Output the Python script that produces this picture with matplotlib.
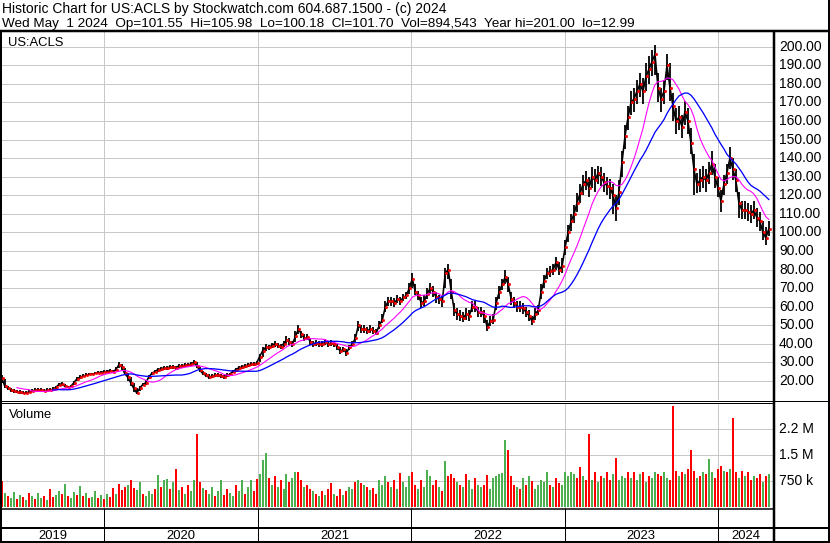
import matplotlib
matplotlib.use('Agg')
import matplotlib.pyplot as plt
import matplotlib.dates as mdates
import matplotlib.transforms as mtransforms
from matplotlib.lines import Line2D
import numpy as np
import pandas as pd

plt.rcParams['font.family'] = ['Liberation Sans', 'DejaVu Sans']

# ---------------- data ----------------
ticker = "US:ACLS"
header1 = "Historic Chart for US:ACLS by Stockwatch.com 604.687.1500 - (c) 2024"
header2 = "Wed May  1 2024  Op=101.55  Hi=105.98  Lo=100.18  Cl=101.70  Vol=894,543  Year hi=201.00  lo=12.99"
start_date, end_date = "2019-05-03", "2024-05-01"

close = [
    21.5, 17, 16, 15, 14.5, 14, 14, 13.5, 13.5, 14,
    14.5, 15, 15, 15, 14.5, 15, 15, 15.5, 16.5, 18,
    18.5, 17, 16.5, 17, 19, 21, 22, 22.5, 23, 23.5,
    23.5, 24, 24.5, 24.5, 25, 25, 25.5, 25, 26, 28.5,
    27.5, 24, 22, 19, 16, 13.5, 16, 18, 19, 22,
    24, 25, 26, 26.5, 27, 27, 27.5, 27.5, 27, 28,
    28, 28.5, 28.5, 29, 30, 28, 26, 24, 23, 22,
    22.5, 23, 23, 22.5, 22, 23, 23.5, 25, 26, 27,
    27.5, 28, 28.5, 29, 29, 29.5, 33, 36, 38, 38,
    39, 40, 39, 38.5, 40, 42, 41, 40, 44, 48,
    45, 43, 43.5, 41, 40, 40.5, 40, 40, 41, 40,
    40.5, 40, 38, 36, 37, 35, 38, 40, 43, 50,
    48, 48, 47, 48, 47, 46, 50, 53, 60, 63,
    63, 62, 64, 63, 65, 66, 70, 75, 68, 66,
    62, 63, 67, 70, 68, 65, 64, 63, 78, 80,
    68, 58, 56, 55, 54, 56, 55, 60, 60, 57,
    57, 55, 49, 52, 53, 62, 68, 72, 76, 72,
    64, 62, 60, 60, 59, 57, 55, 52, 56, 58,
    68, 74, 78, 79, 80, 84, 80, 82, 92, 100,
    106, 110, 116, 121, 126, 128, 124, 130, 128, 132,
    130, 127, 125, 124, 120, 113, 122, 138, 152, 162,
    170, 172, 176, 180, 176, 184, 188, 192, 196, 178,
    172, 176, 190, 178, 168, 160, 162, 157, 165, 160,
    148, 134, 126, 128, 130, 128, 132, 137, 130, 124,
    117, 126, 132, 140, 134, 128, 116, 112, 112, 111,
    110, 112, 108, 106, 100, 97, 102,
]

high = [
    23, 21, 17, 16, 15.5, 15, 15, 14.5, 14.5, 15,
    15.5, 16, 16, 16, 15.5, 16, 16, 16.5, 17.5, 19,
    19.5, 18.5, 17.5, 18, 20, 22, 23, 23.5, 24, 24.5,
    24.5, 25, 25.5, 25.5, 26, 26, 26.5, 26, 27.5, 30,
    29, 27, 24, 22, 19, 16, 17.5, 19, 20.5, 23,
    25, 26, 27, 27.5, 28, 28, 28.5, 28.5, 28, 29,
    29, 29.5, 29.5, 30, 31, 30, 27.5, 25.5, 24, 23.5,
    23.5, 24, 24, 23.5, 23, 24, 24.5, 26, 27, 28,
    28.5, 29, 29.5, 30, 30, 30.5, 34.5, 38, 40, 39.5,
    40.5, 41.5, 40.5, 40, 41.5, 44, 43, 41.5, 47, 50,
    47, 45, 45, 43, 41.5, 42, 41.5, 41.5, 42.5, 41.5,
    42, 41.5, 40, 38, 38.5, 37, 39.5, 41.5, 45, 52,
    50, 50, 49, 50, 49, 48, 52, 56, 63, 65,
    65, 64.5, 66, 65, 67, 68, 73, 78, 72, 68.5,
    65, 66, 70, 73, 71, 68, 66.5, 66, 81, 83,
    75, 62, 59, 58, 57, 59, 58, 63, 63, 60,
    60, 58, 53, 55, 56, 65, 71, 75, 80, 76,
    68, 65, 63, 63, 62, 60, 58, 55, 59, 61,
    72, 77, 81, 82, 83, 87, 84, 86, 96, 104,
    110, 115, 121, 126, 131, 133, 130, 135, 134, 136,
    135, 132, 130, 129, 126, 120, 128, 144, 158, 168,
    176, 178, 182, 186, 183, 191, 195, 198, 201, 186,
    178, 182, 196, 191, 175, 167, 168, 163, 171, 167,
    156, 142, 132, 134, 136, 134, 138, 144, 137, 130,
    123, 131, 137, 146, 140, 134, 122, 117, 117, 116,
    115, 117, 113, 111, 106, 103, 106,
]

low = [
    19, 16, 15, 14, 13.5, 13.5, 13, 13, 13, 13.5,
    14, 14.5, 14.5, 14.5, 14, 14.5, 14.5, 15, 15.5, 17,
    17.5, 16.5, 16, 16.5, 18, 20, 21, 22, 22.5, 23,
    23, 23.5, 24, 24, 24.5, 24.5, 25, 24.5, 25.5, 27,
    26, 23, 20, 17, 14, 13, 14.5, 17, 18, 21,
    23, 24, 25, 25.5, 26, 26, 26.5, 26.5, 26, 27,
    27, 27.5, 27.5, 28, 29, 27, 25, 23, 22, 21,
    21.5, 22, 22, 21.5, 21, 22, 22.5, 24, 25, 26,
    26.5, 27, 27.5, 28, 28, 28.5, 30, 33, 36, 36.5,
    37.5, 38.5, 37.5, 37, 38.5, 40, 39.5, 38.5, 41, 45,
    43, 41.5, 42, 39.5, 38.5, 39, 38.5, 38.5, 39.5, 38.5,
    39, 38.5, 36.5, 34.5, 35.5, 33.5, 36.5, 38.5, 41, 47,
    46, 46, 45, 46, 45, 44.5, 48, 51, 57, 60.5,
    60.5, 60, 62, 61, 63, 64, 67, 70, 66, 63.5,
    59.5, 60.5, 64, 67, 65, 62, 61.5, 60, 70, 75,
    64, 55, 53, 52.5, 51.5, 53, 52.5, 57, 57, 54.5,
    54.5, 51, 47, 49.5, 50.5, 58, 64, 69, 72, 68,
    61, 59, 57, 57, 56, 54.5, 52, 50, 53, 55.5,
    64, 70, 75, 76, 77, 80, 77, 78, 88, 95,
    101, 105, 111, 116, 120, 123, 119, 124, 122, 126,
    125, 122, 120, 118, 110, 106, 115, 130, 145, 155,
    163, 165, 169, 173, 169, 176, 180, 184, 185, 170,
    165, 169, 182, 171, 160, 153, 155, 151, 158, 153,
    142, 120, 121, 122, 124, 122, 126, 131, 124, 119,
    111, 120, 126, 134, 128, 122, 108, 107, 107, 106,
    105, 107, 103, 101, 96, 93, 98,
]

volume_k = [
    750, 400, 330, 260, 450, 240, 370, 290, 210, 400,
    330, 240, 420, 260, 340, 200, 520, 300, 370, 460,
    390, 680, 330, 260, 430, 370, 620, 340, 420, 260,
    310, 460, 260, 370, 240, 390, 290, 550, 390, 680,
    490, 580, 650, 780, 550, 490, 720, 390, 340, 460,
    390, 520, 920, 580, 780, 800, 520, 720, 1100, 490,
    580, 390, 650, 460, 780, 2100, 720, 550, 490, 390,
    580, 330, 460, 780, 370, 520, 420, 340, 650, 460,
    780, 390, 580, 780, 460, 800, 950, 1350, 1550, 850,
    650, 900, 580, 780, 520, 950, 720, 850, 1000, 1000,
    780, 580, 650, 520, 460, 390, 330, 460, 370, 520,
    700, 390, 330, 520, 370, 460, 580, 520, 720, 780,
    700, 650, 580, 490, 550, 390, 780, 650, 900, 720,
    580, 780, 520, 980, 720, 580, 900, 1000, 650, 520,
    780, 580, 1070, 900, 650, 780, 580, 460, 1330, 900,
    950, 850, 720, 650, 580, 950, 780, 520, 850, 650,
    580, 650, 920, 520, 850, 900, 950, 980, 1920, 1640,
    900, 650, 580, 520, 850, 650, 900, 750, 520, 650,
    780, 720, 1000, 650, 580, 850, 700, 650, 1000, 900,
    1000, 950, 850, 1150, 900, 780, 2100, 780, 1000, 720,
    900, 850, 1000, 780, 950, 1410, 780, 900, 850, 1000,
    850, 1000, 780, 950, 1000, 720, 900, 850, 1000, 950,
    900, 1000, 850, 780, 2890, 1050, 900, 1000, 950, 1100,
    1640, 1050, 850, 900, 1000, 950, 1380, 1000, 850, 1100,
    1180, 1050, 1000, 1100, 2550, 1000, 850, 1050, 900, 1000,
    780, 900, 850, 950, 720, 900, 950,
]

# volume bar direction: r = down day, g = up day
vol_dir = (
    "rgrggrgrgr" "grggrgrrgg" "rgrggrgrgr" "ggrgrgrrgr" "rrgrrggrgg"
    "grgrggrgrg" "rgrggrrgrg" "grggrrggrg" "grggrrgggr" "grgrggrggr"
    "rgrrgrgrgr" "rgrrgrggrg" "rgrgrrgggr" "grgrgggrrg" "rgggrrgrgr"
    "rrgrgrggrg" "grrggggggr" "rrgrgrgrgg" "gggrgrrggg" "ggrrgrrgrg"
    "rgrrgrgggr" "grggrgrggr" "rggrrrgrgr" "rrgrgrggrr" "rgrgrrgrgr"
    "rgrrgrg"
)

price_ticks = list(range(20, 201, 10))
vol_ticks = [750e3, 1.5e6, 2.25e6]
vol_tick_labels = ["750 k", "1.5 M", "2.2 M"]
years = [2019, 2020, 2021, 2022, 2023, 2024]
ma_short, ma_long = 10, 20

# ---------------- derived ----------------
dates = pd.date_range(start_date, end_date, periods=len(close))
xd = mdates.date2num(dates.to_pydatetime())
close_s = pd.Series(close)
ma1 = close_s.rolling(ma_short, min_periods=6).mean()
ma2 = close_s.rolling(ma_long, min_periods=18).mean()
vol = np.array(volume_k) * 1000.0
GREEN, RED = '#4caf50', '#ff0000'
vcolors = [RED if c == 'r' else GREEN for c in vol_dir]

# ---------------- layout ----------------
W, H = 830, 543
fig = plt.figure(figsize=(W / 100, H / 100), dpi=100)
PX = 0.72  # one pixel in points

def px_axes(x0, y0, x1, y1):
    a = fig.add_axes([x0 / W, 1 - y1 / H, (x1 - x0) / W, (y1 - y0) / H])
    for s in a.spines.values():
        s.set_visible(False)
    a.set_xticks([])
    a.set_yticks([])
    a.patch.set_alpha(0)
    return a

def hline(y, x0, x1, lw=1):
    fig.add_artist(Line2D([x0 / W, x1 / W], [1 - y / H, 1 - y / H], lw=lw * PX,
                          color='black', transform=fig.transFigure, solid_capstyle='butt'))

def vline(x, y0, y1, lw=1):
    fig.add_artist(Line2D([x / W, x / W], [1 - y0 / H, 1 - y1 / H], lw=lw * PX,
                          color='black', transform=fig.transFigure, solid_capstyle='butt'))

# x-scale: Jan 1 2020 at px 104, Jan 1 2024 at px 718, axes from px 2 to 773
j2020 = mdates.date2num(pd.Timestamp('2020-01-01').to_pydatetime())
j2024 = mdates.date2num(pd.Timestamp('2024-01-01').to_pydatetime())
dpp = (j2024 - j2020) / (718 - 104)
XL = (j2020 - (104 - 2) * dpp, j2024 + (773 - 718) * dpp)
year_x = [mdates.date2num(pd.Timestamp(f'{y}-01-01').to_pydatetime()) for y in years[1:]]
GRID = '#c8c8c8'

# price panel
ax = px_axes(2, 31, 773, 400)
ax.set_xlim(*XL)
ax.set_ylim(9.7, 208.5)
for t in price_ticks:
    ax.axhline(t, color=GRID, lw=PX, zorder=0)
for yx in year_x:
    ax.axvline(yx, color=GRID, lw=PX, zorder=0)
ax.vlines(xd, low, high, color='black', lw=1.8 * PX, zorder=2)
ax.plot(xd, close, color='black', lw=1.6 * PX, zorder=2)
ax.plot(xd + 1.0 * dpp, close, linestyle='none', marker='s', ms=1.4 * PX,
        mfc=RED, mec=RED, zorder=3)
ax.plot(xd, ma1, color='#ff00ff', lw=1.1 * PX, zorder=4)
ax.plot(xd, ma2, color='#0000ff', lw=1.3 * PX, zorder=4)
tr = mtransforms.blended_transform_factory(ax.transAxes, ax.transData)
xlab = (779 - 2) / (773 - 2)
for t in price_ticks:
    ax.text(xlab, t, f"{t:.2f}", transform=tr, ha='left', va='center',
            fontsize=10, clip_on=False)
fig.text(8 / W, 1 - 46 / H, ticker, fontsize=9.4, ha='left', va='baseline')

# volume panel
av = px_axes(2, 403, 773, 509)
av.set_xlim(*XL)
av.set_ylim(-43e3, 2.98e6)
for t in vol_ticks:
    av.axhline(t, color=GRID, lw=PX, zorder=0)
for yx in year_x:
    av.axvline(yx, color=GRID, lw=PX, zorder=0)
av.bar(xd, vol, width=2.0 * dpp, color=vcolors, align='center', zorder=2, linewidth=0)
trv = mtransforms.blended_transform_factory(av.transAxes, av.transData)
for t, lab in zip(vol_ticks, vol_tick_labels):
    av.text(xlab, t, lab, transform=trv, ha='left', va='center', fontsize=10, clip_on=False)
fig.text(9 / W, 1 - 418 / H, "Volume", fontsize=9.4, ha='left', va='baseline')

# blank band and year band
ab = px_axes(2, 509, 773, 527)
ab.set_xlim(*XL)
for yx in year_x:
    ab.axvline(yx, color='black', lw=PX)
ay = px_axes(2, 528, 773, 542)
ay.set_xlim(*XL)
ay.set_ylim(0, 1)
for yx in year_x:
    ay.axvline(yx, color='black', lw=PX)
bounds = [XL[0]] + year_x + [XL[1]]
for i, y in enumerate(years):
    ay.text((bounds[i] + bounds[i + 1]) / 2, 0.45, str(y), ha='center', va='center', fontsize=9.4)

# header
fig.text(2 / W, 1 - 12.5 / H, header1, fontsize=10, ha='left', va='baseline')
fig.text(2 / W, 1 - 26.5 / H, header2, fontsize=9.7, ha='left', va='baseline')

# frame lines
hline(30.5, 0, 830, 2.5)
hline(400.5, 0, 830, 1)
hline(402.5, 0, 773, 1)
hline(509, 0, 773, 1.5)
hline(527.5, 0, 830, 2)
hline(542, 0, 830, 2)
vline(1, 30, 543, 2)
vline(828.5, 0, 543, 2)
vline(773.5, 30, 543, 2.5)

fig.savefig('out.png', dpi=100)
